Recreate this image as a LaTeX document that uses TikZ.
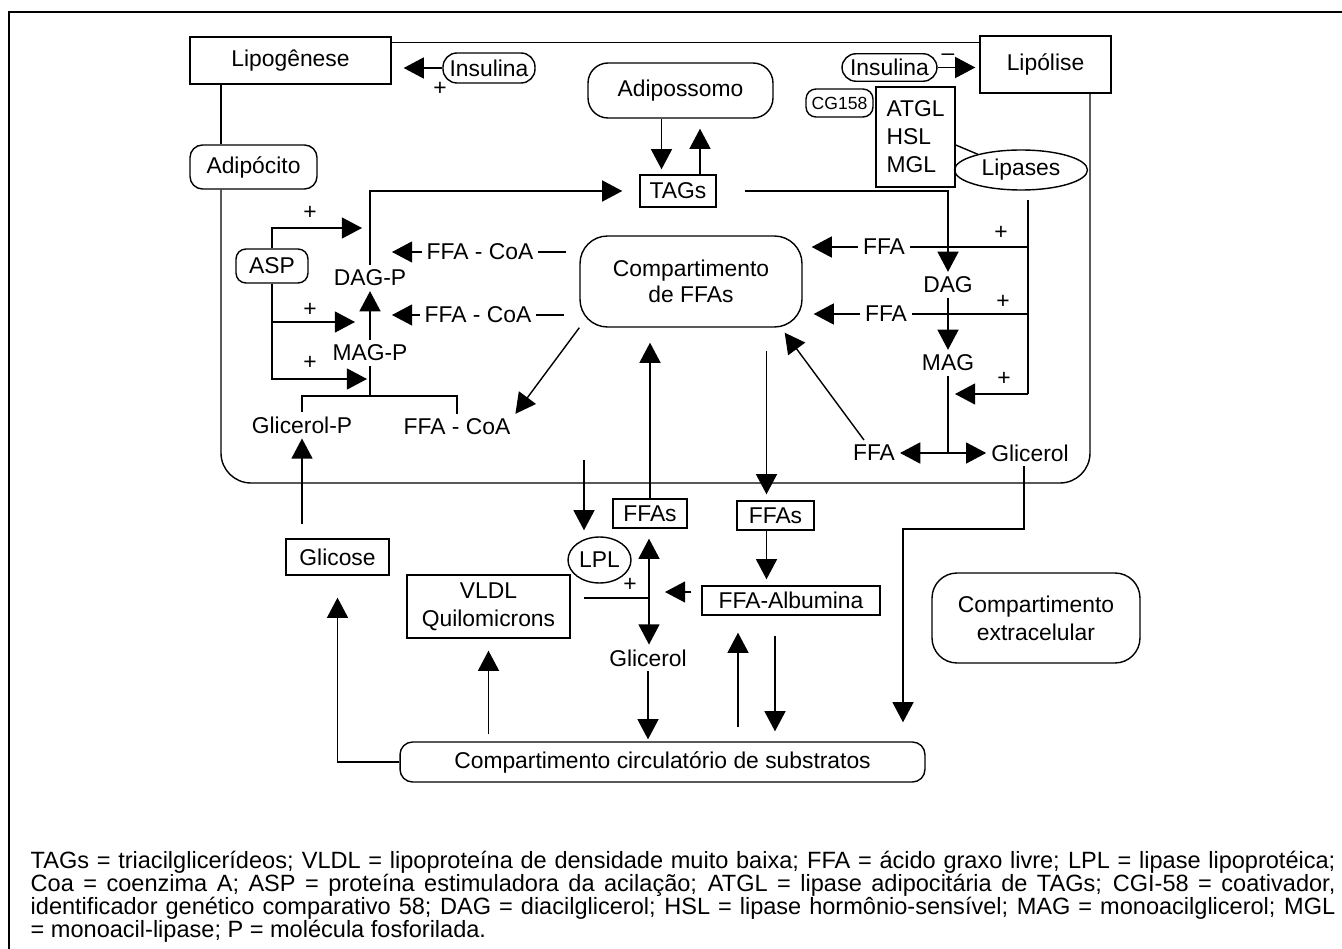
\documentclass[tikz,border=0pt]{standalone}
\usepackage{fontspec}
\setmainfont{Liberation Sans}
\usetikzlibrary{arrows.meta,shapes.geometric}

\begin{document}
\begin{tikzpicture}
	[x=.02cm, y=-.02cm, line width=.8pt, font=\fontsize{13}{15}\selectfont,
	arr/.style={-{Triangle[length=11.5pt,width=12pt]}},
	darr/.style={{Triangle[length=11.5pt,width=12pt]}-{Triangle[length=11.5pt,width=12pt]}},
	box/.style={draw, rectangle, inner sep=1pt, align=center},
	pill/.style={draw, rectangle, rounded corners=.28cm, inner sep=1pt},
	blob/.style={draw, rectangle, rounded corners=.55cm, inner sep=1pt, align=center},
	oval/.style={draw, ellipse, inner sep=1pt},
	txt/.style={inner sep=2.5pt},
	sgn/.style={inner sep=0pt},
	capline/.style={anchor=base west, inner sep=0pt, font=\fontsize{13.4}{15}\selectfont}]
	\useasboundingbox (0,0) rectangle (1342,949);
	\draw (1342,12) -- (9,12) -- (9,949);

	\node[box, minimum width=4.02cm, minimum height=.94cm] (lipo) at (290.5,60.5) {Lipogênese};
	\node[box, minimum width=2.62cm, minimum height=1.14cm] (lipol) at (1045.5,64.5) {Lipólise};
	\node[pill, minimum width=1.84cm, minimum height=.6cm] (insl) at (489,68) {Insulina};
	\node[pill, minimum width=1.9cm, minimum height=.55cm] (insr) at (889.5,67.5) {Insulina};
	\node[sgn] (pl0) at (440,89) {+};
	\node[sgn] (mi0) at (948,57) {--};
	\node[blob, rounded corners=.4cm, minimum width=3.7cm, minimum height=1.1cm] (adipos) at (680.5,90.5) {Adipossomo};
	\node[pill, rounded corners=.25cm, minimum width=2.54cm, minimum height=.88cm] (adip) at (253.5,167) {Adipócito};
	\node[box, minimum width=1.52cm, minimum height=.64cm] (tags) at (678,191) {TAGs};
	\node[pill, rounded corners=.2cm, minimum width=1.34cm, minimum height=.56cm, font=\fontsize{10}{12}\selectfont] (cg) at (839.5,103) {CG158};
	\node[draw, inner sep=1pt, minimum width=1.58cm, minimum height=2cm, align=left, font=\fontsize{13}{16}\selectfont] (lbox) at (915.5,137) {ATGL\\HSL\\MGL};
	\node[oval, minimum width=2.66cm, minimum height=.8cm] (lipas) at (1021,170) {Lipases};

	\node[blob, minimum width=4.44cm, minimum height=1.82cm] (comp) at (691,281.5) {Compartimento\\de FFAs};
	\node[pill, rounded corners=.2cm, minimum width=1.44cm, minimum height=.68cm] (asp) at (272,266) {ASP};
	\node[txt] (dagp) at (370,278) {DAG-P};
	\node[txt] (magp) at (370,353) {MAG-P};
	\node[txt] (fc1) at (480,252) {FFA - CoA};
	\node[txt] (fc2) at (478,315) {FFA - CoA};
	\node[txt] (fc3) at (457,427) {FFA - CoA};
	\node[txt] (glp) at (302,425) {Glicerol-P};
	\node[sgn] (pl1) at (310,213) {+};
	\node[sgn] (pl2) at (310,310) {+};
	\node[sgn] (pl3) at (310,363) {+};

	\node[txt] (ffa1) at (884,247) {FFA};
	\node[txt] (ffa2) at (886,314) {FFA};
	\node[txt] (ffa3) at (874,453) {FFA};
	\node[txt] (dag) at (948,285) {DAG};
	\node[txt] (mag) at (948,363) {MAG};
	\node[txt] (glic1) at (1030,453) {Glicerol};
	\node[sgn] (pl4) at (1001,233) {+};
	\node[sgn] (pl5) at (1003,302) {+};
	\node[sgn] (pl6) at (1004,379) {+};

	\node[box, minimum width=2.06cm, minimum height=.72cm] (glic) at (337.5,557) {Glicose};
	\node[box, minimum width=3.26cm, minimum height=1.26cm, font=\fontsize{13}{16}\selectfont] (vldl) at (488.5,606.5) {VLDL\\Quilomicrons};
	\node[oval, minimum width=1.26cm, minimum height=.92cm] (lpl) at (599.5,560) {LPL};
	\node[box, minimum width=1.48cm, minimum height=.58cm] (ffas1) at (650,513.5) {FFAs};
	\node[box, minimum width=1.54cm, minimum height=.58cm] (ffas2) at (775.5,515.5) {FFAs};
	\node[box, minimum width=3.56cm, minimum height=.58cm] (alb) at (791,600.5) {FFA-Albumina};
	\node[txt] (glic2) at (648,658) {Glicerol};
	\node[sgn] (pl7) at (630,585) {+};
	\node[blob, rounded corners=.5cm, minimum width=4.16cm, minimum height=1.8cm, font=\fontsize{13}{16}\selectfont] (extra) at (1036,618) {Compartimento\\extracelular};
	\node[pill, rounded corners=.25cm, minimum width=10.5cm, minimum height=.8cm] (circ) at (662.5,762) {Compartimento circulatório de substratos};

	\coordinate (mbl) at (221,483);
	\coordinate (mbr) at (1090,483);
	\draw ([yshift=-.12cm]lipo.north east) -- ([yshift=-.12cm]lipo.north east -| lipol.west);
	\draw (lipo.south -| mbl) -- (adip.north -| mbl);
	\draw[rounded corners=.6cm] (adip.south -| mbl) -- (mbl) -- (mbr) -- (lipol.south -| mbr);

	\draw[arr, shorten >=.24cm] (insl.west) -- (insl -| lipo.east);
	\draw[arr, shorten >=.08cm] (insr.east) -- (insr -| lipol.west);
	\draw[arr, shorten >=.1cm] ([xshift=-.38cm]adipos.south) -- ([xshift=-.38cm]adipos.south |- tags.north);
	\draw[arr, shorten >=.2cm] ([xshift=.44cm]tags.north) -- ([xshift=.44cm]tags.north |- adipos.south);
	\draw ([yshift=-.16cm]lbox.east) -- (lipas.160);

	\coordinate (lt) at (1028,200);
	\coordinate (lb) at (1028,394);
	\draw (lt) -- (lb);
	\draw (ffa1.east) -- (ffa1 -| lt);
	\draw (ffa2.east) -- (ffa2 -| lt);
	\draw[arr, shorten >=.18cm] (ffa1.west) -- (ffa1 -| comp.east);
	\draw[arr, shorten >=.22cm] (ffa2.west) -- (ffa2 -| comp.east);
	\draw[arr, shorten >=.14cm] (lb) -- (lb -| mag);
	\draw[arr, shorten <=.56cm] (tags.east) -| (dag.north);
	\draw[arr] (dag) -- (mag);
	\coordinate (spl) at (948,453);
	\draw (mag) -- (spl);
	\draw[arr] (spl) -- (spl -| ffa3.east);
	\draw[arr] (spl) -- (spl -| glic1.west);
	\draw[arr] ([xshift=-.2cm]ffa3.north) -- ([xshift=-.36cm,yshift=-.1cm]comp.south east);

	\draw[shorten <=.26cm] (fc1 -| comp.west) -- (fc1.east);
	\draw[shorten <=.3cm] (fc2 -| comp.west) -- (fc2.east);
	\draw[arr, shorten >=.44cm] (fc1.west) -- (fc1 -| dagp);
	\draw[arr, shorten >=.44cm] (fc2.west) -- (fc2 -| magp);
	\draw[arr, shorten >=.34cm] (dagp.north) |- (tags.west);
	\draw[arr] (magp) -- (dagp);
	\coordinate (a1) at (362,228);
	\coordinate (a2) at (355,322);
	\coordinate (a3) at (367,379);
	\draw[arr] (asp.north) |- (a1);
	\draw[arr] (asp.south) |- (a2);
	\draw[arr] (asp.south) |- (a3);
	\coordinate (br) at (370,396);
	\draw (magp) -- (br);
	\draw (glp.north) -- (glp.north |- br) -- (fc3.north |- br) -- (fc3.north);
	\draw[arr] (comp.south west) -- (fc3.north east);
	\draw[arr, shorten <=.28cm] (glic.north -| glp) -- (glp.south);

	\draw[arr, shorten >=.44cm] (circ.west) -| (glic.south);
	\draw[arr, shorten <=.14cm, shorten >=.24cm] (circ.north -| vldl) -- (vldl.south);
	\coordinate (li) at (584,460);
	\draw[arr, shorten >=.12cm] (li) -- (li |- lpl.north);
	\coordinate (ls) at (649,598);
	\draw[darr, shorten <=.2cm] (ffas1.south -| ls) -- (glic2.north -| ls);
	\draw[shorten <=.26cm] (vldl.east |- ls) -- (ls);
	\draw[arr, shorten <=.2cm, shorten >=.32cm] ([yshift=.17cm]alb.west) -- ([yshift=.17cm]alb.west -| ls);
	\draw[arr, shorten >=.04cm] (glic2) -- (glic2 |- circ.north);
	\draw[arr, shorten >=.3cm] (ffas1.north) -- (ffas1.north |- comp.south);
	\coordinate (f2) at ([xshift=-.18cm]ffas2.north);
	\draw[arr, shorten <=.46cm, shorten >=.12cm] (f2 |- comp.south) -- (f2);
	\draw[arr, shorten >=.12cm] (ffas2.south -| f2) -- (f2 |- alb.north);
	\coordinate (au) at (738,700);
	\coordinate (ad) at (775,700);
	\draw[arr, shorten <=.28cm, shorten >=.34cm] (circ.north -| au) -- (au |- alb.south);
	\draw[arr, shorten <=.4cm, shorten >=.2cm] (alb.south -| ad) -- (ad |- circ.north);
	\coordinate (gb) at (903,529);
	\draw[arr, shorten >=.38cm] ([xshift=-.12cm]glic1.south) |- (gb) -- (gb |- circ.north);

	\node[capline] (cap1) at (30,868) {\hbox to 26.1cm{TAGs = triacilglicerídeos; VLDL = lipoproteína de densidade muito baixa; FFA = ácido graxo livre; LPL = lipase lipoprotéica;}};
	\node[capline] (cap2) at (30,891) {\hbox to 26.1cm{Coa = coenzima A; ASP = proteína estimuladora da acilação; ATGL = lipase adipocitária de TAGs; CGI-58 = coativador,}};
	\node[capline] (cap3) at (30,914) {\hbox to 26.1cm{identificador genético comparativo 58; DAG = diacilglicerol; HSL = lipase hormônio-sensível; MAG = monoacilglicerol; MGL}};
	\node[capline] (cap4) at (30,937) {= monoacil-lipase; P = molécula fosforilada.};
\end{tikzpicture}
\end{document}
